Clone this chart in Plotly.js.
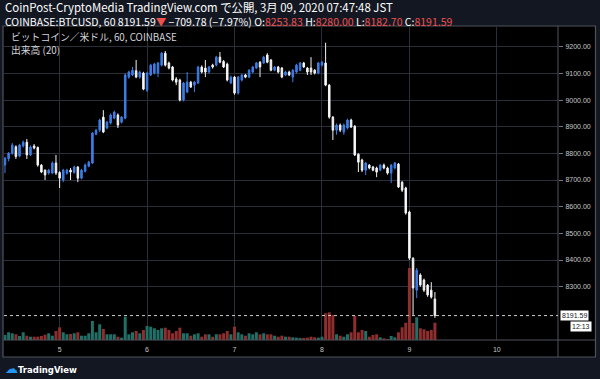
<!DOCTYPE html>
<html><head><meta charset="utf-8">
<script src="https://cdn.plot.ly/plotly-3.0.1.min.js"></script>
<style>html,body{margin:0;padding:0;background:#131722;}#chart{width:600px;height:379px;}</style>
</head><body><div id="chart"></div>
<script>
// hourly candles starting 2020-03-04 09:00 (JST)
const startHour = Date.UTC(2020, 2, 4, 9);

const openP = [
 8756,8780,8800,8825,8790,8828,8842,8794,8828,8822,
 8756,8737,8726,8726,8764,8728,8700,8725,8737,8728,
 8749,8707,8733,8752,8764,8872,8887,8936,8895,8914,
 8932,8944,8917,8932,9086,9094,9110,9086,9101,9037,
 9094,9101,9101,9131,9176,9139,9124,9079,9075,9000,
 9030,9067,9056,9064,9124,9120,9105,9131,9131,9161,
 9145,9135,9064,9086,9026,9075,9094,9086,9105,9120,
 9142,9139,9169,9150,9112,9124,9120,9094,9105,9086,
 9105,9112,9139,9120,9120,9112,9101,9131,9139,9056,
 8936,8887,8906,8880,8895,8925,8902,8797,8775,8737,
 8756,8749,8745,8737,8756,8745,8726,8745,8760,8692,
 8670,8580,8407,8287,8344,8325,8306,8287,8253.83
];
const highP = [
 8786,8805,8839,8830,8836,8848,8854,8830,8835,8826,
 8760,8740,8742,8770,8794,8733,8742,8742,8745,8754,
 8752,8742,8762,8772,8880,8892,8930,8962,8922,8950,
 8960,8950,8940,9100,9110,9124,9150,9110,9106,9106,
 9136,9140,9143,9180,9184,9144,9128,9086,9080,9068,
 9105,9072,9072,9128,9130,9150,9128,9136,9166,9180,
 9150,9140,9092,9090,9090,9098,9098,9116,9128,9143,
 9146,9166,9176,9154,9128,9128,9124,9110,9110,9116,
 9136,9143,9143,9124,9161,9116,9143,9146,9215,9060,
 8940,8912,8912,8912,8930,8930,8906,8800,8780,8768,
 8760,8753,8750,8760,8762,8750,8760,8768,8764,8696,
 8675,8585,8410,8370,8350,8330,8310,8317,8280.00
];
const lowP = [
 8726,8770,8795,8779,8785,8822,8779,8790,8815,8750,
 8726,8700,8720,8722,8719,8670,8692,8720,8700,8724,
 8692,8703,8728,8748,8760,8868,8880,8876,8890,8908,
 8928,8895,8912,8928,9080,9090,9082,9080,9037,9030,
 9090,9096,9086,9126,9126,9115,9070,9056,8995,8995,
 9026,9045,9030,9060,9100,9086,9100,9118,9126,9138,
 9120,9070,9060,9020,9020,9070,9082,9082,9100,9116,
 9086,9135,9138,9108,9108,9100,9082,9090,9090,9067,
 9100,9108,9120,9094,9094,9096,9096,9126,9052,8930,
 8850,8870,8880,8870,8890,8895,8790,8730,8730,8719,
 8740,8733,8711,8733,8740,8720,8689,8740,8670,8655,
 8570,8400,8194,8257,8300,8280,8262,8255,8182.70
];
const closeP = [
 8782,8801,8831,8788,8831,8842,8794,8824,8820,8756,
 8730,8719,8737,8764,8726,8707,8737,8737,8730,8749,
 8707,8737,8756,8767,8876,8887,8925,8880,8917,8944,
 8955,8906,8936,9094,9105,9112,9086,9105,9041,9101,
 9131,9135,9139,9176,9131,9120,9075,9067,9000,9064,
 9067,9049,9067,9124,9105,9105,9124,9124,9161,9142,
 9124,9075,9086,9026,9086,9094,9086,9112,9124,9139,
 9124,9161,9142,9112,9124,9105,9086,9105,9094,9112,
 9131,9139,9124,9105,9105,9101,9139,9142,9056,8936,
 8887,8906,8887,8906,8925,8899,8794,8767,8737,8764,
 8745,8737,8730,8756,8745,8726,8756,8764,8674,8662,
 8576,8407,8295,8362,8306,8287,8269,8261,8191.59
];
const volume = [
 250,385,335,285,200,385,215,165,165,165,
 200,265,335,215,450,635,385,285,300,335,
 385,215,215,335,950,385,785,550,285,285,
 285,165,115,1165,285,385,450,335,500,700,
 665,585,500,585,615,500,335,450,615,335,
 335,215,285,335,165,285,285,165,285,285,
 335,450,285,665,385,285,215,335,285,385,
 285,335,285,285,215,165,215,165,165,135,
 115,100,100,115,165,135,115,165,1335,1385,
 1250,285,215,165,285,385,1200,385,500,450,
 165,250,285,135,85,50,200,135,385,635,
 865,3600,850,1135,585,535,450,500,865
];
const dayTicks = ['2020-03-05','2020-03-06','2020-03-07','2020-03-08','2020-03-09','2020-03-10'];
const dayLabels = ['5','6','7','8','9','10'];
const priceTicks = [8300,8400,8500,8600,8700,8800,8900,9000,9100,9200];
const headerLine1 = 'CoinPost-CryptoMedia TradingView.com で公開, 3月 09, 2020 07:47:48 JST';
const symbolText = 'COINBASE:BTCUSD, 60';
const changeText = '−709.78 (−7.97%)';
const paneTitle = 'ビットコイン／米ドル, 60, COINBASE';
const volTitle = '出来高 (20)';
const timerText = '12:13';

const times = openP.map((_, i) => new Date(startHour + i * 3600000).toISOString().slice(0, 16).replace('T', ' '));
const n = closeP.length;
const last = n - 1;
const volColors = closeP.map((c, i) => c >= openP[i] ? '#1f7168' : '#902d2d');

// pixel -> paper helpers (layout positioning only)
const L = 4, R = 558, T = 27, B = 340;
const xp = px => (px - L) / (R - L);
const yp = py => 1 - (py - T) / (B - T);

const RED = '#f0514f';
const fmt = v => v.toFixed(2);

const line2 = symbolText + ' ' + fmt(closeP[last]) + '<span style="color:' + RED + '">▼</span> ' + changeText +
  ' O:<span style="color:' + RED + '">' + fmt(openP[last]) + '</span>' +
  ' H:<span style="color:' + RED + '">' + fmt(highP[last]) + '</span>' +
  ' L:<span style="color:' + RED + '">' + fmt(lowP[last]) + '</span>' +
  ' C:<span style="color:' + RED + '">' + fmt(closeP[last]) + '</span>';
const headerText = '<span style="font-size:11.4px">' + headerLine1 + '</span><br>' + line2;

const traces = [
  {
    type: 'bar', x: times, y: volume, xaxis: 'x', yaxis: 'y',
    marker: { color: volColors, line: { width: 0 } }, hoverinfo: 'skip', showlegend: false
  },
  {
    type: 'candlestick', x: times, open: openP, high: highP, low: lowP, close: closeP,
    xaxis: 'x', yaxis: 'y2', whiskerwidth: 0, hoverinfo: 'skip', showlegend: false,
    increasing: { line: { color: '#3d7ee6', width: 1 }, fillcolor: '#3d7ee6' },
    decreasing: { line: { color: '#f2f2f2', width: 1 }, fillcolor: '#ffffff' }
  }
];

const gridC = '#2a2e39';
const frameC = '#4f525c';
const cjk = '"Noto Sans CJK JP", "Noto Sans", sans-serif';

const layout = {
  width: 600, height: 379,
  margin: { l: L, r: 600 - R, t: T, b: 379 - B, pad: 0 },
  paper_bgcolor: '#131722', plot_bgcolor: 'rgba(0,0,0,0)',
  showlegend: false, bargap: 0.18, boxgap: 0.4,
  font: { family: 'Liberation Sans, Arial, sans-serif', color: '#d1d4dc' },
  xaxis: {
    type: 'date', range: ['2020-03-04 08:44', '2020-03-10 16:47'],
    tickvals: dayTicks, ticktext: dayLabels, ticks: '', showgrid: true, gridcolor: gridC, gridwidth: 1,
    zeroline: false, showline: false, rangeslider: { visible: false },
    tickfont: { size: 7, color: '#c8c8c8' }, ticklabelstandoff: 4, fixedrange: true
  },
  yaxis: { range: [0, 15650], visible: false, showgrid: false, fixedrange: true },
  yaxis2: {
    overlaying: 'y', side: 'right', range: [8100, 9274],
    tickvals: priceTicks, tickformat: '.2f', ticks: 'outside', ticklen: 4, tickcolor: '#777',
    showgrid: true, gridcolor: gridC, gridwidth: 1, zeroline: false, showline: false,
    tickfont: { size: 7, color: '#c8c8c8' }, ticklabelstandoff: 1, fixedrange: true
  },
  shapes: [
    { type: 'rect', xref: 'paper', yref: 'paper', x0: xp(3), x1: xp(595.5), y0: yp(357), y1: yp(26),
      fillcolor: '#000000', line: { color: frameC, width: 1.2 }, layer: 'below' },
    { type: 'line', xref: 'paper', yref: 'paper', x0: 1, x1: 1, y0: yp(357), y1: yp(26),
      line: { color: frameC, width: 1 }, layer: 'above' },
    { type: 'line', xref: 'paper', yref: 'paper', x0: xp(3), x1: xp(595.5), y0: 0, y1: 0,
      line: { color: frameC, width: 1 }, layer: 'above' },
    { type: 'line', xref: 'paper', yref: 'y2', x0: 0, x1: 1, y0: closeP[last], y1: closeP[last],
      line: { color: '#cfcfcf', width: 1, dash: 'dot' }, layer: 'above' }
  ],
  annotations: [
    { xref: 'paper', yref: 'paper', x: xp(3), y: yp(14), xanchor: 'left', yanchor: 'middle', align: 'left', showarrow: false,
      text: headerText, font: { family: cjk, size: 10.5, color: '#ffffff' } },
    { xref: 'paper', yref: 'paper', x: xp(9), y: yp(37), xanchor: 'left', yanchor: 'middle', showarrow: false,
      text: paneTitle, font: { family: cjk, size: 9.8, color: '#d1d4dc' } },
    { xref: 'paper', yref: 'paper', x: xp(9), y: yp(49.5), xanchor: 'left', yanchor: 'middle', showarrow: false,
      text: volTitle, font: { family: cjk, size: 9.8, color: '#d1d4dc' } },
    { xref: 'paper', yref: 'y2', x: 1, y: closeP[last], xanchor: 'left', yanchor: 'middle', xshift: 2, showarrow: false,
      text: fmt(closeP[last]), bgcolor: '#ffffff', borderpad: 1, font: { size: 7, color: '#131722' } },
    { xref: 'paper', yref: 'paper', x: xp(592), y: yp(326.5), xanchor: 'right', yanchor: 'middle', showarrow: false,
      text: timerText, bgcolor: '#ffffff', borderpad: 1, font: { size: 7, color: '#131722' } },
    { xref: 'paper', yref: 'paper', x: xp(3), y: yp(368), xanchor: 'left', yanchor: 'middle', showarrow: false,
      text: '<span style="color:#2196f3;font-size:13px">☁</span><b>TradingView</b>', font: { family: 'DejaVu Sans, sans-serif', size: 8.5, color: '#ffffff' } }
  ]
};

Plotly.newPlot('chart', traces, layout, { staticPlot: true, displayModeBar: false });
</script>
</body></html>
